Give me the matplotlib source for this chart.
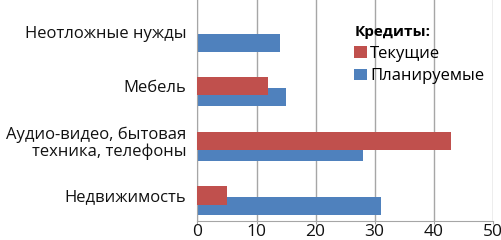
import matplotlib
matplotlib.use("Agg")
import matplotlib.pyplot as plt
import numpy as np

categories = ["Недвижимость", "Аудио-видео, бытовая\nтехника, телефоны", "Мебель", "Неотложные нужды"]
current = [5, 43, 12, 0]
planned = [31, 28, 15, 14]
series_names = ["Текущие", "Планируемые"]
legend_title = "Кредиты:"
x_ticks = [0, 10, 20, 30, 40, 50]

RED = "#C0504D"
BLUE = "#4F81BD"
GRID = "#A6A6A6"

plt.rcParams["font.family"] = ["Open Sans", "DejaVu Sans"]

fig = plt.figure(figsize=(5.02, 2.40), dpi=100)
ax = fig.add_axes([0.3934, 0.0792, 0.5881, 0.9208])

y = np.arange(len(categories))
h = 0.33
off = 0.2
ax.barh(y - off, planned, height=h, color=BLUE, label=series_names[1], zorder=2)
ax.barh(y, current, height=h, color=RED, label=series_names[0], zorder=3)

ax.set_xlim(0, 50)
ax.set_ylim(-0.467, 3.58)
ax.set_xticks(x_ticks)
ax.set_yticks(y)
ax.set_yticklabels(categories, ha="right", multialignment="right", linespacing=1.05)
ax.tick_params(axis="y", length=0, labelsize=12, colors="#111111", pad=8)
ax.tick_params(axis="x", length=2, labelsize=12.5, labelcolor="#111111", color=GRID, pad=0)
ax.xaxis.grid(True, color=GRID, linewidth=1, zorder=0)
ax.set_axisbelow(True)
for s in ["top", "right"]:
    ax.spines[s].set_visible(False)
for s in ["left", "bottom"]:
    ax.spines[s].set_color(GRID)

handles, labels = ax.get_legend_handles_labels()
leg = ax.legend(handles[::-1], labels[::-1], title=legend_title, loc="upper left",
                bbox_to_anchor=(0.689, 0.93), bbox_transform=fig.transFigure,
                frameon=False, fontsize=12, handlelength=0.75, handleheight=0.7,
                handletextpad=0.2, labelspacing=0.4, alignment="left", borderpad=0)
leg.get_title().set_fontweight("bold")
leg.get_title().set_fontsize(11)

fig.savefig("out.png", dpi=100)
